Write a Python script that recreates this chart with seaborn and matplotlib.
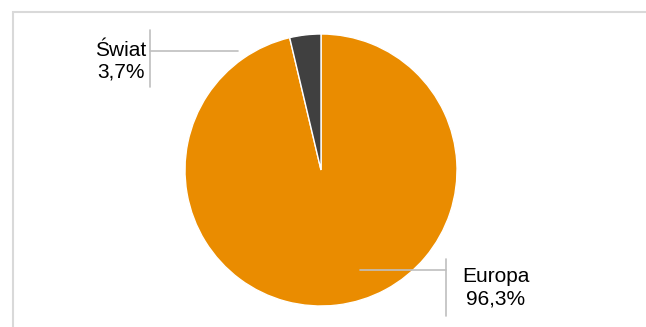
import matplotlib.pyplot as plt
import seaborn as sns
from matplotlib.patches import Rectangle

# Data
regions = ['Europa', 'Świat']
shares = [96.3, 3.7]
labels = ['Europa\n96,3%', 'Świat\n3,7%']

sns.set_theme(style='white')
plt.rcParams['font.family'] = ['Liberation Sans', 'DejaVu Sans']
colors = ['#EA8C00', '#404040']

W, H = 646, 327
fig = plt.figure(figsize=(W / 100, H / 100), dpi=100)
ax = fig.add_axes([0, 0, 1, 1])
ax.set_xlim(0, W)
ax.set_ylim(0, H)
ax.axis('off')

# Chart frame (cropped on the right and bottom)
ax.add_patch(Rectangle((12.5, -5), W, H - 12 + 5, fill=False,
                       edgecolor='#D9D9D9', linewidth=1.5))

# Pie: starts at 12 o'clock, clockwise
cx, cy, r = 321, H - 170, 136
ax.pie(shares, colors=colors, startangle=90, counterclock=False,
       center=(cx, cy), radius=r, frame=True,
       wedgeprops=dict(edgecolor='white', linewidth=1))
ax.set_xlim(0, W)
ax.set_ylim(0, H)
ax.axis('off')

# Leader lines
line_kw = dict(color='#BFBFBF', linewidth=1.2)
ax.plot([150, 150], [H - 30, H - 87], **line_kw)
ax.plot([150, 238], [H - 51, H - 51], **line_kw)
ax.plot([446, 446], [H - 259, H - 316], **line_kw)
ax.plot([360, 446], [H - 270, H - 270], **line_kw)

# Data labels
ax.text(121, H - 61, labels[1], ha='center', va='center', fontsize=15,
        color='black', multialignment='center')
ax.text(496, H - 288, labels[0], ha='center', va='center', fontsize=15,
        color='black', multialignment='center')

fig.savefig('out.png', dpi=100)
